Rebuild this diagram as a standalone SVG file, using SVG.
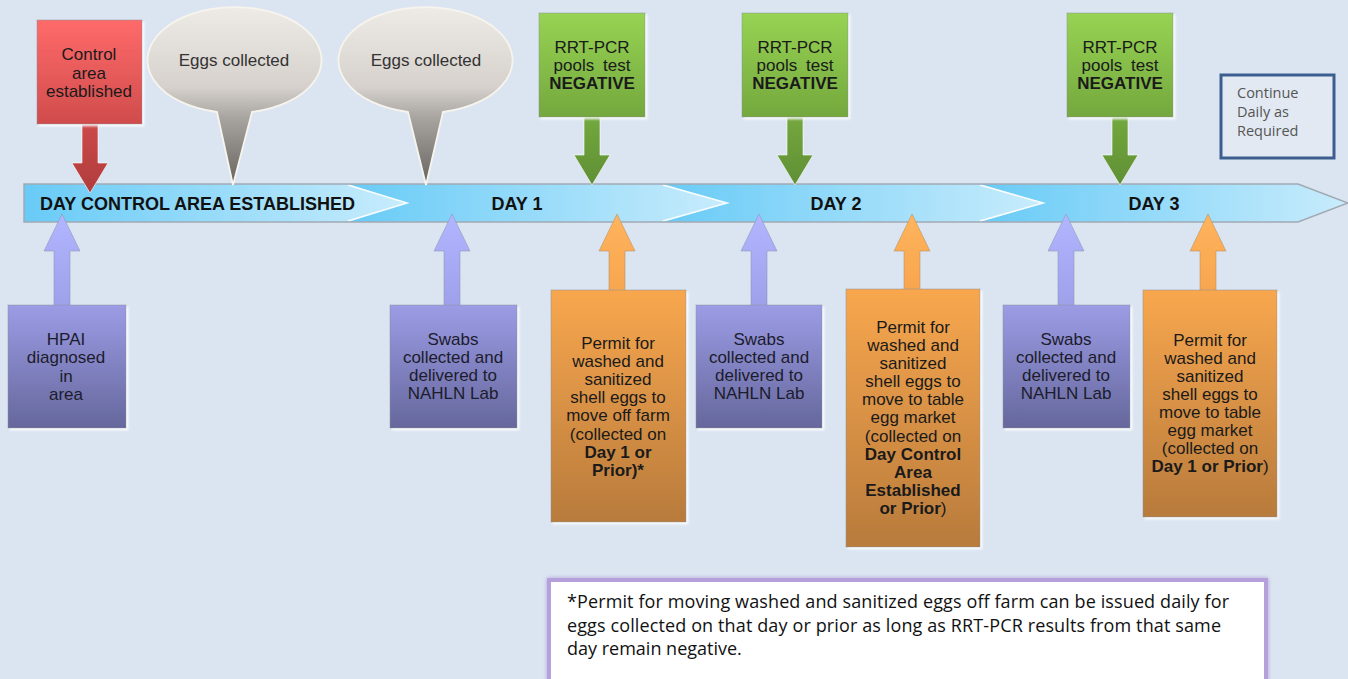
<svg xmlns="http://www.w3.org/2000/svg" width="1348" height="679" viewBox="0 0 1348 679">
<defs>
<style>
.t{font-family:"Liberation Sans",Arial,sans-serif;font-size:17px;fill:#1a1a1a;text-anchor:middle}
.tp{fill:#1c1c2c}
.b{font-weight:bold}
.day{font-family:"Liberation Sans",Arial,sans-serif;font-size:18px;font-weight:bold;fill:#111}
.cal{font-family:"Open Sans","Noto Sans",sans-serif;fill:#111}
.box{stroke:#8a8f99;stroke-opacity:.5;stroke-width:1;filter:url(#sh)}
.chl{fill:none;stroke:#ffffff;stroke-width:1.6;stroke-opacity:.9}
</style>
<filter id="sh" x="-10%" y="-10%" width="125%" height="125%">
<feDropShadow dx="2" dy="2" stdDeviation="0.8" flood-color="#ffffff" flood-opacity="0.9"/>
</filter>
<filter id="glow" x="-5%" y="-20%" width="110%" height="140%">
<feDropShadow dx="0" dy="0" stdDeviation="2" flood-color="#a58fd6" flood-opacity="0.8"/>
</filter>
<linearGradient id="gBar" x1="0" y1="0" x2="1" y2="0">
<stop offset="0" stop-color="#68cbf6"/><stop offset="0.25" stop-color="#80d3f8"/><stop offset="1" stop-color="#c8ecfc"/>
</linearGradient>
<linearGradient id="gRedBox" x1="0" y1="0" x2="0" y2="1">
<stop offset="0" stop-color="#ff6a6a"/><stop offset="1" stop-color="#d04c4c"/>
</linearGradient>
<linearGradient id="gRedArr" x1="0" y1="0" x2="0" y2="1">
<stop offset="0" stop-color="#cc4a4a"/><stop offset="1" stop-color="#b03c3c"/>
</linearGradient>
<linearGradient id="gGreenBox" x1="0" y1="0" x2="0" y2="1">
<stop offset="0" stop-color="#97d353"/><stop offset="1" stop-color="#74a83e"/>
</linearGradient>
<linearGradient id="gGreenArr" x1="0" y1="0" x2="0" y2="1">
<stop offset="0" stop-color="#74a83e"/><stop offset="1" stop-color="#5f8f35"/>
</linearGradient>
<linearGradient id="gPurBox" x1="0" y1="0" x2="0" y2="1">
<stop offset="0" stop-color="#9c9ce6"/><stop offset="1" stop-color="#65679c"/>
</linearGradient>
<linearGradient id="gPurArr" x1="0" y1="0" x2="0" y2="1">
<stop offset="0" stop-color="#b2b6ff"/><stop offset="1" stop-color="#9ea0ea"/>
</linearGradient>
<linearGradient id="gOrBox" x1="0" y1="0" x2="0" y2="1">
<stop offset="0" stop-color="#f8a74e"/><stop offset="1" stop-color="#b87b3c"/>
</linearGradient>
<linearGradient id="gOrArr" x1="0" y1="0" x2="0" y2="1">
<stop offset="0" stop-color="#ffb45c"/><stop offset="1" stop-color="#f7a650"/>
</linearGradient>
<linearGradient id="gEgg" x1="0" y1="0" x2="0" y2="1">
<stop offset="0" stop-color="#eeebe6"/><stop offset="0.45" stop-color="#d6d1cc"/><stop offset="0.62" stop-color="#a8a4a0"/><stop offset="1" stop-color="#67635f"/>
</linearGradient>
</defs>

<rect x="0" y="0" width="1348" height="679" fill="#dbe5f1"/>

<g id="timeline">
<polygon points="980,184 1298,184 1348,203 1298,222 980,222" fill="url(#gBar)"/>
<polygon points="663,184 980,184 1043,203 980,222 663,222" fill="url(#gBar)"/>
<polygon points="348,184 663,184 727,203 663,222 348,222" fill="url(#gBar)"/>
<polygon points="24,184 348,184 407,203 348,222 24,222" fill="url(#gBar)"/>
<polyline class="chl" points="348,185 407,203 348,221"/>
<polyline class="chl" points="663,185 727,203 663,221"/>
<polyline class="chl" points="980,185 1043,203 980,221"/>
<polygon points="24,184 1298,184 1348,203 1298,222 24,222" fill="none" stroke="#a2a9b2" stroke-width="1.5"/>
<text class="day" x="40" y="210">DAY CONTROL AREA ESTABLISHED</text>
<text class="day" x="517" y="210" text-anchor="middle">DAY 1</text>
<text class="day" x="836" y="210" text-anchor="middle">DAY 2</text>
<text class="day" x="1154" y="210" text-anchor="middle">DAY 3</text>
</g>

<g id="connectors">
<polygon points="82,123 98,123 98,163 108,163 90,193 72,163 82,163" fill="url(#gRedArr)" stroke="#ffffff" stroke-opacity=".6" stroke-width="1"/>
<polygon points="584,116 600,116 600,155 610,155 592,185 574,155 584,155" fill="url(#gGreenArr)" stroke="#ffffff" stroke-opacity=".6" stroke-width="1"/>
<polygon points="787,116 803,116 803,155 813,155 795,185 777,155 787,155" fill="url(#gGreenArr)" stroke="#ffffff" stroke-opacity=".6" stroke-width="1"/>
<polygon points="1112,116 1128,116 1128,155 1138,155 1120,185 1102,155 1112,155" fill="url(#gGreenArr)" stroke="#ffffff" stroke-opacity=".6" stroke-width="1"/>
<polygon points="62,214 80,251 70,251 70,306 54,306 54,251 44,251" fill="url(#gPurArr)" stroke="#8a8fb0" stroke-opacity=".5" stroke-width="1"/>
<polygon points="452,214 470,251 460,251 460,306 444,306 444,251 434,251" fill="url(#gPurArr)" stroke="#8a8fb0" stroke-opacity=".5" stroke-width="1"/>
<polygon points="617,214 635,251 625,251 625,291 609,291 609,251 599,251" fill="url(#gOrArr)" stroke="#b08a60" stroke-opacity=".5" stroke-width="1"/>
<polygon points="759,214 777,251 767,251 767,306 751,306 751,251 741,251" fill="url(#gPurArr)" stroke="#8a8fb0" stroke-opacity=".5" stroke-width="1"/>
<polygon points="912,214 930,251 920,251 920,290 904,290 904,251 894,251" fill="url(#gOrArr)" stroke="#b08a60" stroke-opacity=".5" stroke-width="1"/>
<polygon points="1066,214 1084,251 1074,251 1074,306 1058,306 1058,251 1048,251" fill="url(#gPurArr)" stroke="#8a8fb0" stroke-opacity=".5" stroke-width="1"/>
<polygon points="1208,214 1226,251 1216,251 1216,291 1200,291 1200,251 1190,251" fill="url(#gOrArr)" stroke="#b08a60" stroke-opacity=".5" stroke-width="1"/>
</g>

<g id="control-area">
<rect class="box" x="37" y="20" width="105" height="104" fill="url(#gRedBox)"/>
<text class="t" x="89" y="60">Control</text>
<text class="t" x="89" y="79">area</text>
<text class="t" x="89" y="97">established</text>
</g>

<g id="eggs-1">
<path d="M252 112 A87 53 0 1 0 217 112 L233 185 Z" fill="url(#gEgg)" stroke="#f7f4ee" stroke-width="1.8"/>
<text class="t" x="234" y="66" style="fill:#333">Eggs collected</text>
</g>

<g id="eggs-2">
<path d="M443 112 A87 53 0 1 0 408 112 L426 185 Z" fill="url(#gEgg)" stroke="#f7f4ee" stroke-width="1.8"/>
<text class="t" x="426" y="66" style="fill:#333">Eggs collected</text>
</g>

<g id="rrt-1">
<rect class="box" x="539" y="13" width="106" height="104" fill="url(#gGreenBox)"/>
<text class="t" x="592" y="53">RRT-PCR</text>
<text class="t" x="592" y="71" word-spacing="4">pools test</text>
<text class="t b" x="592" y="89">NEGATIVE</text>
</g>

<g id="rrt-2">
<rect class="box" x="742" y="13" width="106" height="104" fill="url(#gGreenBox)"/>
<text class="t" x="795" y="53">RRT-PCR</text>
<text class="t" x="795" y="71" word-spacing="4">pools test</text>
<text class="t b" x="795" y="89">NEGATIVE</text>
</g>

<g id="rrt-3">
<rect class="box" x="1067" y="13" width="106" height="104" fill="url(#gGreenBox)"/>
<text class="t" x="1120" y="53">RRT-PCR</text>
<text class="t" x="1120" y="71" word-spacing="4">pools test</text>
<text class="t b" x="1120" y="89">NEGATIVE</text>
</g>

<g id="continue">
<rect x="1221" y="75" width="113" height="83" fill="#e2e9f3" stroke="#3b5e8f" stroke-width="3"/>
<text class="cal" x="1237" y="98" font-size="14.5" style="fill:#555">Continue</text>
<text class="cal" x="1237" y="117" font-size="14.5" style="fill:#555">Daily as</text>
<text class="cal" x="1237" y="136" font-size="14.5" style="fill:#555">Required</text>
</g>

<g id="hpai">
<rect class="box" x="8" y="305" width="118" height="123" fill="url(#gPurBox)"/>
<text class="t tp" x="66" y="345">HPAI</text>
<text class="t tp" x="66" y="363">diagnosed</text>
<text class="t tp" x="66" y="382">in</text>
<text class="t tp" x="66" y="400">area</text>
</g>

<g id="swabs-1">
<rect class="box" x="390" y="305" width="127" height="123" fill="url(#gPurBox)"/>
<text class="t tp" x="453" y="345">Swabs</text>
<text class="t tp" x="453" y="363">collected and</text>
<text class="t tp" x="453" y="381">delivered to</text>
<text class="t tp" x="453" y="399">NAHLN Lab</text>
</g>

<g id="permit-1">
<rect class="box" x="551" y="290" width="135" height="232" fill="url(#gOrBox)"/>
<text class="t" x="618" y="349">Permit for</text>
<text class="t" x="618" y="367">washed and</text>
<text class="t" x="618" y="385">sanitized</text>
<text class="t" x="618" y="403">shell eggs to</text>
<text class="t" x="618" y="421">move off farm</text>
<text class="t" x="618" y="440">(collected on</text>
<text class="t b" x="618" y="458">Day 1 or</text>
<text class="t b" x="618" y="476">Prior)*</text>
</g>

<g id="swabs-2">
<rect class="box" x="696" y="305" width="126" height="123" fill="url(#gPurBox)"/>
<text class="t tp" x="759" y="345">Swabs</text>
<text class="t tp" x="759" y="363">collected and</text>
<text class="t tp" x="759" y="381">delivered to</text>
<text class="t tp" x="759" y="399">NAHLN Lab</text>
</g>

<g id="permit-2">
<rect class="box" x="846" y="289" width="134" height="258" fill="url(#gOrBox)"/>
<text class="t" x="913" y="333">Permit for</text>
<text class="t" x="913" y="351">washed and</text>
<text class="t" x="913" y="369">sanitized</text>
<text class="t" x="913" y="387">shell eggs to</text>
<text class="t" x="913" y="405">move to table</text>
<text class="t" x="913" y="423">egg market</text>
<text class="t" x="913" y="442">(collected on</text>
<text class="t b" x="913" y="460">Day Control</text>
<text class="t b" x="913" y="478">Area</text>
<text class="t b" x="913" y="496">Established</text>
<text class="t" x="913" y="514"><tspan class="b">or Prior</tspan>)</text>
</g>

<g id="swabs-3">
<rect class="box" x="1003" y="305" width="127" height="123" fill="url(#gPurBox)"/>
<text class="t tp" x="1066" y="345">Swabs</text>
<text class="t tp" x="1066" y="363">collected and</text>
<text class="t tp" x="1066" y="381">delivered to</text>
<text class="t tp" x="1066" y="399">NAHLN Lab</text>
</g>

<g id="permit-3">
<rect class="box" x="1143" y="290" width="134" height="227" fill="url(#gOrBox)"/>
<text class="t" x="1210" y="346">Permit for</text>
<text class="t" x="1210" y="364">washed and</text>
<text class="t" x="1210" y="382">sanitized</text>
<text class="t" x="1210" y="400">shell eggs to</text>
<text class="t" x="1210" y="418">move to table</text>
<text class="t" x="1210" y="436">egg market</text>
<text class="t" x="1210" y="454">(collected on</text>
<text class="t" x="1210" y="472"><tspan class="b">Day 1 or Prior</tspan>)</text>
</g>

<g id="footnote">
<rect x="549" y="580" width="717" height="115" fill="#ffffff" stroke="#b5a0dc" stroke-width="4" filter="url(#glow)"/>
<text class="cal" x="567" y="608" font-size="18" textLength="662" lengthAdjust="spacing">*Permit for moving washed and sanitized eggs off farm can be issued daily for</text>
<text class="cal" x="567" y="632" font-size="18" textLength="654" lengthAdjust="spacing">eggs collected on that day or prior as long as RRT-PCR results from that same</text>
<text class="cal" x="567" y="655" font-size="18">day remain negative.</text>
</g>
</svg>
